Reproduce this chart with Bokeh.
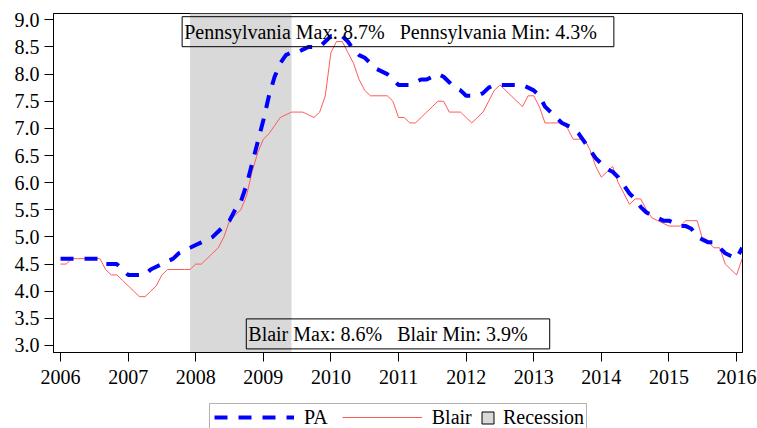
import pandas as pd
from bokeh.plotting import figure
from bokeh.layouts import column
from bokeh.models import (Range1d, FixedTicker, BoxAnnotation, Label, Legend,
                          LegendItem, NumeralTickFormatter)
from bokeh.embed import file_html
from bokeh.resources import INLINE

# ---------------- data ----------------
months = pd.date_range("2006-01-01", periods=122, freq="MS")

pa = [4.6, 4.6, 4.6, 4.6, 4.6, 4.6, 4.6, 4.6, 4.5, 4.5, 4.5, 4.4,
      4.3, 4.3, 4.3, 4.3, 4.4, 4.45, 4.5, 4.55, 4.6, 4.7, 4.75, 4.8,
      4.85, 4.9, 4.95, 5.0, 5.1, 5.2, 5.3, 5.5, 5.65, 5.95, 6.35, 6.75,
      7.15, 7.6, 7.95, 8.2, 8.35, 8.4, 8.4, 8.45, 8.5, 8.5, 8.5, 8.6,
      8.7, 8.7, 8.7, 8.6, 8.45, 8.35, 8.3, 8.2, 8.1, 8.05, 8.0, 7.9,
      7.8, 7.8, 7.8, 7.85, 7.9, 7.9, 7.95, 8.0, 7.95, 7.85, 7.75, 7.7,
      7.6, 7.6, 7.6, 7.65, 7.75, 7.8, 7.8, 7.8, 7.8, 7.8, 7.8, 7.75,
      7.7, 7.6, 7.4, 7.3, 7.2, 7.1, 7.05, 7.0, 6.9, 6.75, 6.6, 6.45,
      6.35, 6.25, 6.2, 6.1, 5.95, 5.8, 5.7, 5.55, 5.45, 5.4, 5.35, 5.3,
      5.3, 5.25, 5.2, 5.2, 5.15, 5.0, 4.95, 4.9, 4.9, 4.8, 4.7, 4.65,
      4.6, 4.8]

blair = [4.5, 4.5, 4.6, 4.6, 4.6, 4.6, 4.6, 4.6, 4.4, 4.3, 4.3, 4.2,
         4.1, 4.0, 3.9, 3.9, 4.0, 4.1, 4.3, 4.4, 4.4, 4.4, 4.4, 4.4,
         4.5, 4.5, 4.6, 4.7, 4.8, 5.0, 5.3, 5.4, 5.5, 5.75, 6.2, 6.55,
         6.8, 6.9, 7.05, 7.2, 7.25, 7.3, 7.3, 7.3, 7.25, 7.2, 7.3, 7.6,
         8.4, 8.6, 8.6, 8.4, 8.2, 7.9, 7.7, 7.6, 7.6, 7.6, 7.6, 7.5,
         7.2, 7.2, 7.1, 7.1, 7.2, 7.3, 7.4, 7.5, 7.5, 7.3, 7.3, 7.3,
         7.2, 7.1, 7.2, 7.3, 7.5, 7.7, 7.8, 7.7, 7.6, 7.5, 7.4, 7.6,
         7.6, 7.4, 7.1, 7.1, 7.1, 7.1, 7.0, 6.8, 6.8, 6.8, 6.6, 6.3,
         6.1, 6.2, 6.3, 6.0, 5.8, 5.6, 5.7, 5.7, 5.5, 5.35, 5.3, 5.25,
         5.2, 5.2, 5.2, 5.3, 5.3, 5.3, 4.95, 4.9, 4.8, 4.8, 4.5, 4.4,
         4.3, 4.6]

year_ticks = list(range(2006, 2017))
y_ticks = [3.0, 3.5, 4.0, 4.5, 5.0, 5.5, 6.0, 6.5, 7.0, 7.5, 8.0, 8.5, 9.0]
recession_start = pd.Timestamp("2007-12-01")
recession_end = pd.Timestamp("2009-06-01")
pa_max, pa_min = 8.7, 4.3
blair_max, blair_min = 8.6, 3.9


def frac_year(d):
    return d.year + (d.month - 1) / 12.0


x = [frac_year(d) for d in months]

FONT = "Liberation Serif"
NB = "\u00a0"
NAN = float("nan")
PA_COLOR = "blue"
BLAIR_COLOR = "#FF5A5A"
REC_COLOR = "#D9D9D9"

# ---------------- main chart ----------------
p = figure(width=757, height=401, output_backend="svg", toolbar_location=None,
           x_range=Range1d(2005.896, 2016.088), y_range=Range1d(2.871, 9.116),
           min_border_left=53, min_border_right=15, min_border_top=13,
           min_border_bottom=49)

p.xgrid.visible = False
p.ygrid.visible = False
p.outline_line_color = "black"
p.outline_line_width = 1
p.outline_line_alpha = 1.0
p.background_fill_color = "white"
p.border_fill_color = "white"

for ax in (p.xaxis[0], p.yaxis[0]):
    ax.axis_line_color = "black"
    ax.major_tick_line_color = "black"
    ax.major_tick_out = 9
    ax.major_tick_in = 0
    ax.minor_tick_line_color = None
    ax.major_label_text_font = FONT
    ax.major_label_text_font_size = "20px"
    ax.major_label_text_color = "black"

p.xaxis.ticker = FixedTicker(ticks=year_ticks)
p.xaxis.major_label_overrides = {y: str(y) for y in year_ticks}
p.xaxis.major_label_standoff = 8
p.yaxis.ticker = FixedTicker(ticks=y_ticks)
p.yaxis.formatter = NumeralTickFormatter(format="0.0")
p.yaxis.major_label_standoff = 5

# recession shading
p.add_layout(BoxAnnotation(left=frac_year(recession_start), right=frac_year(recession_end),
                           fill_color=REC_COLOR, fill_alpha=1.0, line_color=None,
                           level="underlay"))

p.line(x, blair, line_color=BLAIR_COLOR, line_width=1)
p.line(x, pa, line_color=PA_COLOR, line_width=4, line_dash="13 11")

# annotation boxes
pa_text = f"Pennsylvania Max: {pa_max}%{NB*3}Pennsylvania Min: {pa_min}%{NB*3}"
blair_text = f"Blair Max: {blair_max}%{NB*3}Blair Min: {blair_min}%{NB*4}"
for txt, yy in ((pa_text, 320.8), (blair_text, 18.6)):
    p.add_layout(Label(x=344.5, y=yy, x_units="screen", y_units="screen", text=txt,
                       text_align="center", text_baseline="middle",
                       text_font=FONT, text_font_size="20px", text_color="black",
                       border_line_color="black", border_line_width=1,
                       background_fill_color=None, padding=(2, 4)))

# ---------------- legend strip (its frame lines up with the chart frame) ----------------
lf = figure(width=757, height=27, output_backend="svg", toolbar_location=None,
            x_axis_location=None, y_axis_location=None, min_border=0,
            x_range=Range1d(53, 742), y_range=Range1d(428, 401))
lf.xgrid.visible = False
lf.ygrid.visible = False
lf.outline_line_color = None
lf.background_fill_color = "white"
lf.border_fill_color = "white"

lr_pa = lf.line([NAN], [NAN], line_color=PA_COLOR, line_width=4, line_dash="13 11")
lr_blair = lf.line([NAN], [NAN], line_color=BLAIR_COLOR, line_width=1)
lr_rec = lf.quad(left=[NAN], right=[NAN], top=[NAN], bottom=[NAN],
                 fill_color=REC_COLOR, line_color="black", line_width=1)

lf.add_layout(BoxAnnotation(left=209, right=586, top=403, bottom=440,
                            fill_color="white", fill_alpha=1.0,
                            line_color="black", line_width=1, level="underlay"))

common = dict(orientation="horizontal", margin=0, border_line_alpha=0.0,
              background_fill_alpha=0.0, label_text_font=FONT,
              label_text_font_size="20px", label_text_color="black",
              label_height=24)
leg_a = Legend(items=[LegendItem(label="PA", renderers=[lr_pa]),
                      LegendItem(label="Blair", renderers=[lr_blair])],
               location=(158, -4), glyph_width=80, glyph_height=24,
               label_standoff=10, spacing=14, padding=3, **common)
leg_b = Legend(items=[LegendItem(label="Recession", renderers=[lr_rec])],
               location=(427, -1), glyph_width=15, glyph_height=15,
               label_standoff=8, spacing=0, padding=0, **common)
lf.add_layout(leg_a)
lf.add_layout(leg_b)

open("out.html", "w").write(file_html(column(p, lf, spacing=0), INLINE))
